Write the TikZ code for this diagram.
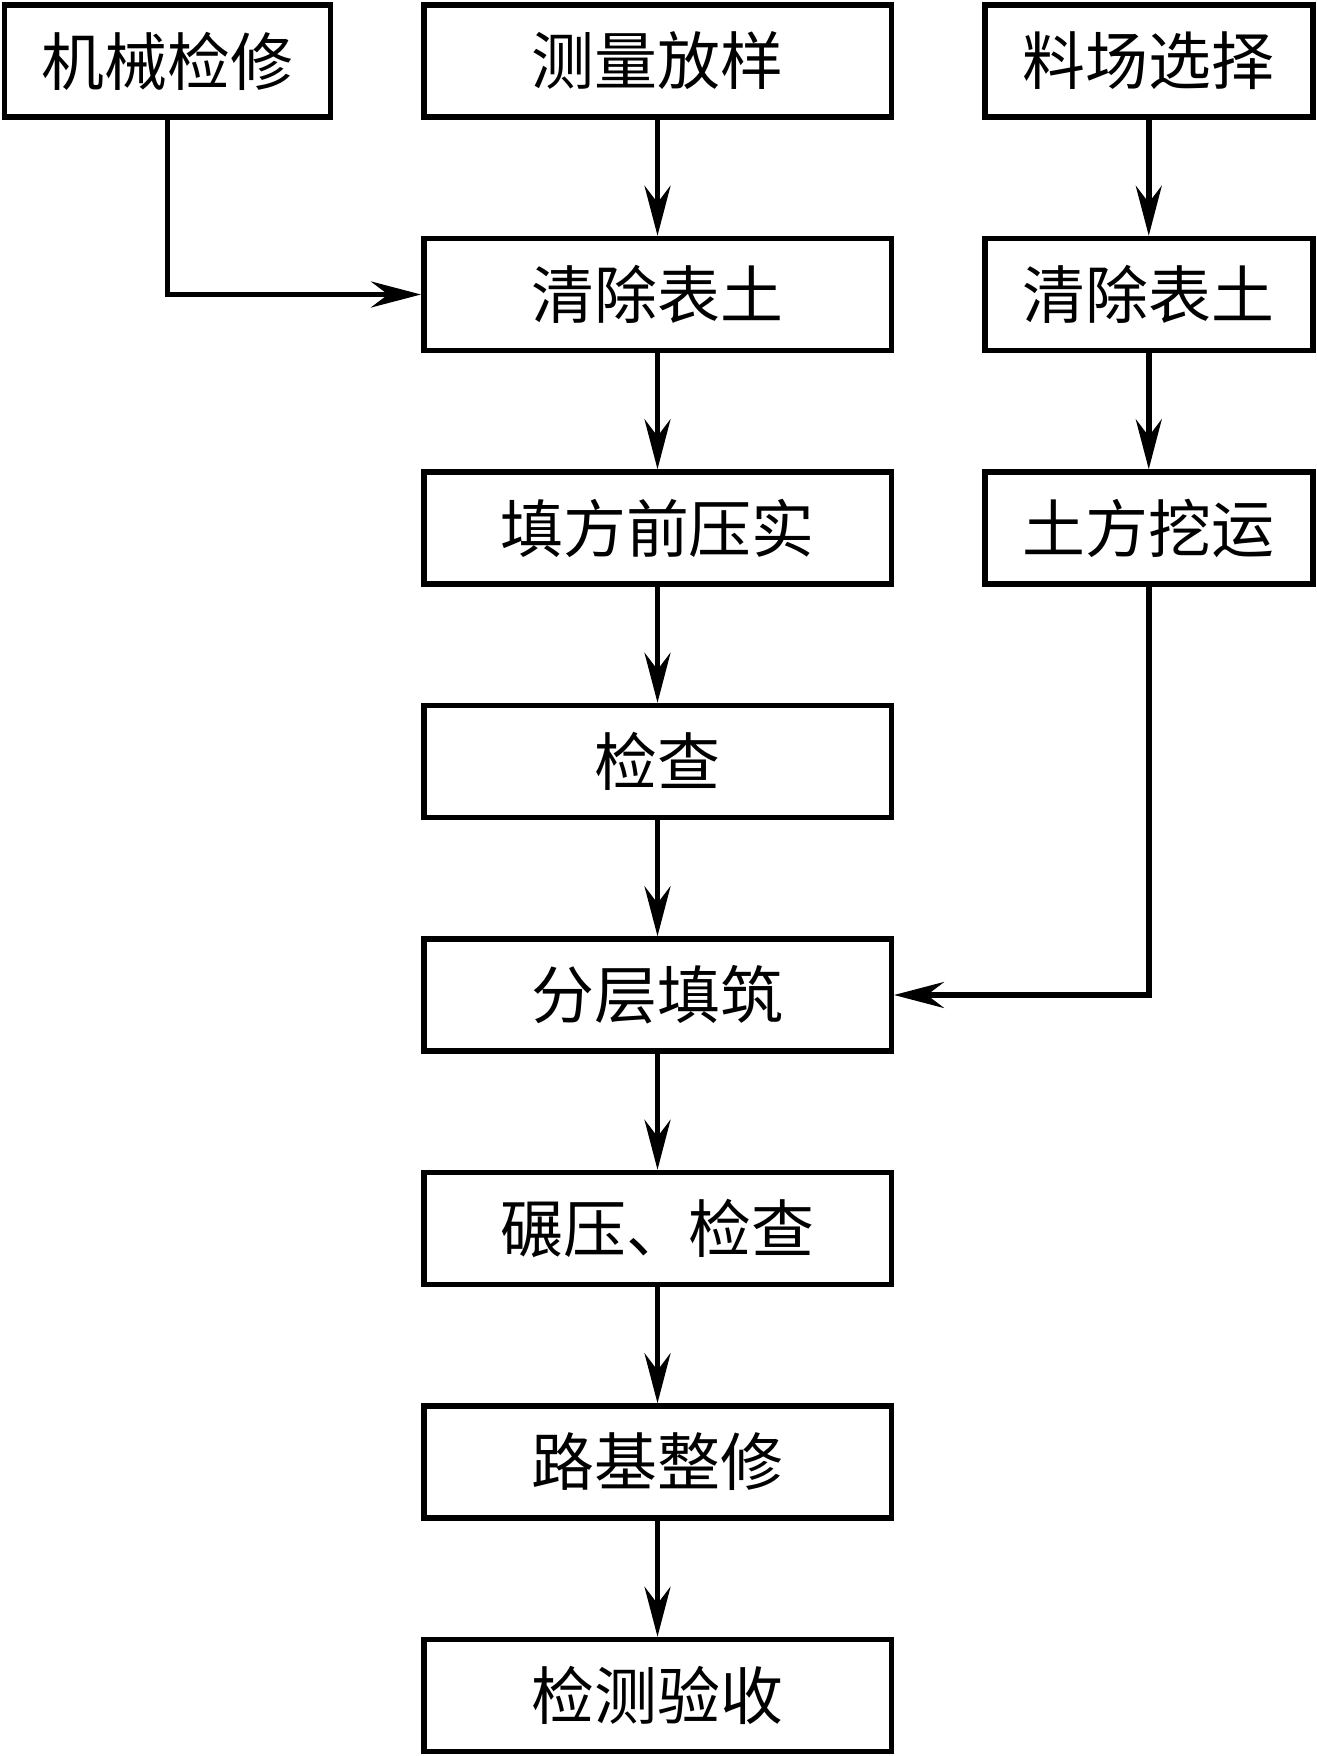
\documentclass[tikz,border=0pt]{standalone}
\usepackage{fontspec}
\setmainfont{Noto Sans CJK SC}
\usetikzlibrary{
  arrows.meta,
  positioning
}
\tikzset{
  base/.style={
    text=black,
    font=\fontsize{17.9}{20}\selectfont,
    align=center,
    inner sep=0pt,
  },
  box/.style={
    base,
    draw=black,
    line width=0.055cm,
    minimum width=#1,
    minimum height=1.12cm,
  },
  box/.default=4.675cm,
  flow/.style={
    -{Stealth[length=5mm, width=2.6mm, inset=1.7mm]},
    line width=0.055cm,
    draw=black,
  },
}

\begin{document}
\begin{tikzpicture}[node distance=1.16cm]
\useasboundingbox (0,0) rectangle (13.17,-17.56);

% === Main column ===

\node[box] at (6.575,-0.61)
  (survey) {测量放样};

\node[box, below=of survey]
  (clear) {清除表土};

\node[box, below=of clear]
  (precomp) {填方前压实};

\node[box, below=of precomp]
  (check) {检查};

\node[box, below=of check]
  (layer) {分层填筑};

\node[box, below=of layer]
  (roll) {碾压、检查};

\node[box, below=of roll]
  (trim) {路基整修};

\node[box, below=of trim]
  (accept) {检测验收};

\draw[flow] (survey) -- (clear);
\draw[flow] (clear) -- (precomp);
\draw[flow] (precomp) -- (check);
\draw[flow] (check) -- (layer);
\draw[flow] (layer) -- (roll);
\draw[flow] (roll) -- (trim);
\draw[flow] (trim) -- (accept);

% === Left: machinery ===

\node[box=3.26cm, left=0.88cm of survey]
  (mech) {机械检修};

\draw[flow] (mech.south) |- (clear.west);

% === Right column: borrow pit ===

\node[box=3.28cm, right=0.88cm of survey]
  (site) {料场选择};

\node[box=3.28cm, below=of site]
  (strip) {清除表土};

\node[box=3.28cm, below=of strip]
  (haul) {土方挖运};

\draw[flow] (site) -- (strip);
\draw[flow] (strip) -- (haul);
\draw[flow] (haul.south) |- (layer.east);

\end{tikzpicture}
\end{document}
